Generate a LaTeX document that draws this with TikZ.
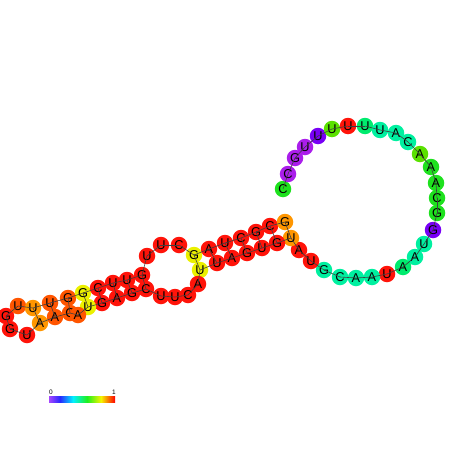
\documentclass[tikz,border=0pt]{standalone}
\usepackage{fontspec}
\setmainfont{Liberation Sans}
\definecolor{cRed}{RGB}{255,20,10}
\definecolor{cOrg}{RGB}{255,150,0}
\definecolor{cOrr}{RGB}{255,85,0}
\definecolor{cYel}{RGB}{235,240,0}
\definecolor{cGrn}{RGB}{30,225,30}
\definecolor{cLgr}{RGB}{90,225,0}
\definecolor{cTea}{RGB}{0,240,160}
\definecolor{cTgr}{RGB}{0,235,110}
\definecolor{cPur}{RGB}{170,30,235}
\definecolor{cVio}{RGB}{120,0,245}
\definecolor{sPur}{RGB}{165,70,255}
\definecolor{sBlu}{RGB}{40,40,255}
\definecolor{sCya}{RGB}{0,240,255}
\definecolor{sGrn}{RGB}{30,240,30}
\definecolor{sYel}{RGB}{245,245,0}
\definecolor{sRed}{RGB}{255,0,0}
\tikzset{
  nt/.style={circle, inner sep=0pt, minimum size=16.5pt, font=\fontsize{12.8}{12.8}\selectfont},
  bb/.style={line width=0.6pt, draw=black!75},
}
\begin{document}
\begin{tikzpicture}[x=1pt, y=-1pt]
  \useasboundingbox (0,0) rectangle (452,452);

  % nucleotides, 5' to 3'
  \foreach \i/\b/\x/\y/\c in {
    1/C/283/189/cGrn, 2/C/288/174/cPur, 3/G/295/158/cPur, 4/U/305/147/cPur,
    5/U/318/136/cVio, 6/U/332/129/cLgr, 7/U/348/126/cRed, 8/U/365/126/cTgr,
    9/U/380/130/cTea, 10/A/396/133/cTea, 11/C/408/142/cTea, 12/A/420/154/cLgr,
    13/A/431/167/cGrn, 14/A/436/183/cGrn, 15/C/437/198/cGrn, 16/G/437/213/cGrn,
    17/G/433/230/cVio, 18/U/424/244/cTea, 19/A/415/257/cTea, 20/A/403/267/cTgr,
    21/U/387/274/cRed, 22/A/372/277/cTea, 23/A/356/278/cTea, 24/C/340/277/cTea,
    25/G/324/270/cTea, 26/U/311/261/cRed, 27/A/299/250/cRed, 28/U/291/238/cOrg,
    29/G/277/243/cRed, 30/U/262/248/cRed, 31/G/247/253/cRed, 32/A/232/258/cRed,
    33/U/217/263/cRed, 34/U/200/270/cYel, 35/A/198/284/cRed, 36/C/188/295/cRed,
    37/U/175/297/cRed, 38/U/161/296/cRed, 39/C/146/289/cRed, 40/G/132/293/cRed,
    41/A/117/298/cRed, 42/G/102/303/cRed, 43/U/88/307/cYel, 45/C/70/313/cOrr,
    44/A/78/315/cOrr, 46/A/55/317/cOrr, 47/A/40/323/cOrg, 48/U/27/335/cRed,
    49/G/10/329/cRed, 50/G/6/316/cRed, 51/U/18/306/cOrr, 52/U/33/308/cOrg,
    53/U/50/303/cOrr, 54/G/68/298/cOrr, 55/G/83/293/cYel, 56/C/98/288/cRed,
    57/U/113/283/cRed, 58/U/127/280/cRed, 59/G/142/275/cRed, 60/U/147/256/cRed,
    61/U/161/245/cRed, 62/C/179/245/cRed, 63/G/194/255/cYel, 64/A/209/249/cRed,
    65/U/225/243/cRed, 66/C/241/238/cRed, 67/G/256/232/cRed, 68/C/270/226/cRed,
    69/G/285/222/cOrg}
    \node[nt, fill=\c] (n\i) at (\x,\y) {\b};

  % backbone
  \foreach \i in {1,...,68} {
    \pgfmathtruncatemacro\j{\i+1}
    \draw[bb] (n\i.center) -- (n\j.center);
  }

  % base pairs
  \foreach \p/\q in {28/69, 29/68, 30/67, 31/66, 32/65, 33/64, 34/63,
                     39/59, 40/58, 41/57, 42/56, 43/55, 45/54, 46/53, 47/52}
    \draw[bb] (n\p.center) -- (n\q.center);

  % colour scale
  \shade[left color=sPur, right color=sBlu] (49,396) rectangle (60,402.5);
  \shade[left color=sBlu, right color=sCya] (60,396) rectangle (73,402.5);
  \shade[left color=sCya, right color=sGrn] (73,396) rectangle (87,402.5);
  \shade[left color=sGrn, right color=sYel] (87,396) rectangle (101,402.5);
  \shade[left color=sYel, right color=sRed] (101,396) rectangle (115,402.5);
  \node[font=\fontsize{6.5}{6.5}\selectfont, inner sep=0pt] (lo) at (51,392.5) {0};
  \node[font=\fontsize{6.5}{6.5}\selectfont, inner sep=0pt] (hi) at (114,392.5) {1};

\end{tikzpicture}
\end{document}
